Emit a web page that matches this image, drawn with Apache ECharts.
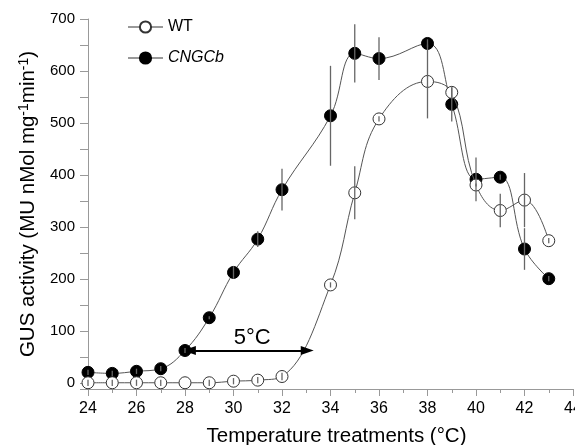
<!DOCTYPE html>
<html>
<head>
<meta charset="utf-8">
<script src="https://cdn.jsdelivr.net/npm/echarts@6/dist/echarts.min.js"></script>
<style>
html,body{margin:0;padding:0;background:#fff;}
#chart{width:575px;height:445px;}
</style>
</head>
<body>
<div id="chart"></div>
<script>
const temps = [24, 25, 26, 27, 28, 29, 30, 31, 32, 34, 35, 36, 38, 39, 40, 41, 42, 43];
const wtValues = [1, 1, 1, 1, 1, 1, 4, 6, 13, 189, 366, 508, 580, 559, 381, 332, 352, 274];
const wtErrors = [6, 6, 6, 6, 0, 6, 6, 6, 7, 5, 51, 5, 71, 10, 3, 32, 52, 5];
const cngcbValues = [21, 19, 23, 28, 63, 126, 213, 277, 372, 514, 634, 624, 653, 536, 392, 396, 258, 201];
const cngcbErrors = [5, 5, 5, 5, 5, 3, 12, 15, 40, 96, 56, 41, 8, 33, 42, 5, 40, 5];
const yTickValues = [-11, 0, 50, 100, 150, 200, 250, 300, 350, 400, 450, 500, 550, 600, 650, 700];
const yTickLabels = [0, 100, 200, 300, 400, 500, 600, 700];
const arrowY = 63;
const arrowFrom = 28.18;
const arrowTo = 33.04;
const arrowLabel = '5°C';

const FONT = '"Liberation Sans", Arial, sans-serif';
const chart = echarts.init(document.getElementById('chart'), null, {renderer: 'canvas'});

const pairs = (vals) => temps.map((t, i) => [t, vals[i]]);
const errData = [];
temps.forEach((t, i) => {
  errData.push([t, wtValues[i] - wtErrors[i], wtValues[i] + wtErrors[i]]);
  errData.push([t, cngcbValues[i] - cngcbErrors[i], cngcbValues[i] + cngcbErrors[i]]);
});

const option = {
  animation: false,
  backgroundColor: '#fff',
  grid: {left: 88, right: 2, top: 19, bottom: 56, containLabel: false, outerBoundsMode: 'none'},
  legend: {
    orient: 'vertical',
    left: 122,
    top: 14,
    itemWidth: 35,
    itemHeight: 14,
    itemGap: 15,
    lineStyle: {color: '#999', width: 2},
    textStyle: {fontSize: 16, fontFamily: FONT, color: '#000', padding: [0, 0, 0, 0]},
    data: [
      {name: 'WT'},
      {name: 'CNGCb', textStyle: {fontStyle: 'italic'}}
    ]
  },
  xAxis: {
    type: 'value',
    min: 24,
    max: 44,
    interval: 2,
    name: 'Temperature treatments (°C)',
    nameLocation: 'middle',
    nameGap: 37,
    nameTextStyle: {fontSize: 20.5, fontFamily: FONT, color: '#000', padding: [0, 0, 0, 12]},
    axisLine: {onZero: false, lineStyle: {color: '#999', width: 1}},
    axisTick: {length: 7, lineStyle: {color: '#999'}},
    minorTick: {show: true, splitNumber: 2, length: 4, lineStyle: {color: '#999'}},
    axisLabel: {fontSize: 16, fontFamily: FONT, color: '#000', margin: 12, hideOverlap: false},
    splitLine: {show: false},
    minorSplitLine: {show: false}
  },
  yAxis: {
    type: 'value',
    min: -11,
    max: 700,
    name: 'GUS activity (MU nMol mg{sup|-1}min{sup|-1})',
    nameLocation: 'middle',
    nameGap: 48,
    nameRotate: 90,
    nameTextStyle: {
      fontSize: 20.5, fontFamily: FONT, color: '#000',
      rich: {sup: {fontSize: 14, fontFamily: FONT, color: '#000', verticalAlign: 'top', padding: [0, 0, 9, 0]}}
    },
    axisLine: {show: true, lineStyle: {color: '#999', width: 1}},
    axisTick: {show: true, length: 8, customValues: yTickValues, lineStyle: {color: '#999'}},
    axisLabel: {
      fontSize: 15, fontFamily: FONT, color: '#000', margin: 13,
      customValues: yTickLabels
    },
    splitLine: {show: false}
  },
  series: [
    {
      name: 'CNGCb',
      type: 'line',
      data: pairs(cngcbValues),
      smooth: 0.4,
      symbol: 'circle',
      symbolSize: 12,
      itemStyle: {color: '#000', borderColor: '#000', borderWidth: 1},
      lineStyle: {color: '#555', width: 1},
      markLine: {
        silent: true,
        symbol: ['triangle', 'triangle'],
        symbolSize: [9, 13],
        lineStyle: {color: '#000', width: 2, type: 'solid'},
        label: {show: true, position: 'middle', formatter: arrowLabel, fontSize: 22, fontFamily: FONT, color: '#000', distance: 1.5, padding: [0, 0, 0, 8]},
        data: [[{coord: [arrowFrom, arrowY]}, {coord: [arrowTo, arrowY]}]]
      },
      z: 3
    },
    {
      name: 'WT',
      type: 'line',
      data: pairs(wtValues),
      smooth: 0.4,
      symbol: 'circle',
      symbolSize: 12,
      itemStyle: {color: '#fff', borderColor: '#333', borderWidth: 1},
      lineStyle: {color: '#555', width: 1},
      z: 4
    },
    {
      name: 'errors',
      type: 'custom',
      data: errData,
      z: 5,
      silent: true,
      renderItem: (params, api) => {
        const lo = api.coord([api.value(0), api.value(1)]);
        const hi = api.coord([api.value(0), api.value(2)]);
        return {
          type: 'line',
          shape: {x1: lo[0], y1: lo[1], x2: hi[0], y2: hi[1]},
          style: {stroke: '#666', lineWidth: 1.3}
        };
      }
    }
  ]
};
chart.setOption(option);
</script>
</body>
</html>
